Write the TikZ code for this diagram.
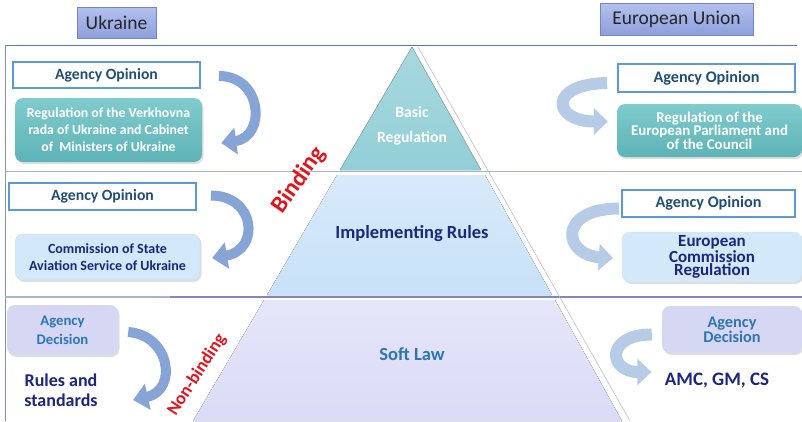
\documentclass[tikz,border=0pt]{standalone}
\usepackage{fontspec}
\setmainfont{Carlito}
\usetikzlibrary{arrows.meta,shadows,calc}
\definecolor{hdrtop}{HTML}{B3C1EE}
\definecolor{hdrbot}{HTML}{8E9FDC}
\definecolor{hdrline}{HTML}{7086C8}
\definecolor{opline}{HTML}{5B9BD5}
\definecolor{optext}{HTML}{1F4E79}
\definecolor{tealtop}{HTML}{80CBCD}
\definecolor{tealbot}{HTML}{5DB3B6}
\definecolor{lbluefill}{HTML}{D3E8F9}
\definecolor{navy}{HTML}{1C2580}
\definecolor{lavfill}{HTML}{D6D7F3}
\definecolor{midblue}{HTML}{2E75B6}
\definecolor{larrowc}{HTML}{86A5D6}
\definecolor{rarrowc}{HTML}{B6CBE6}
\definecolor{pyrtop}{HTML}{92CFD6}
\definecolor{pyrmid}{HTML}{C7E1F8}
\definecolor{pyrbot}{HTML}{DADBF7}
\definecolor{bindred}{HTML}{E3141B}
\definecolor{frameblue}{HTML}{5878A8}
\definecolor{sepgrey}{HTML}{A9B4C8}
\definecolor{seppurple}{HTML}{8484BE}
\tikzset{
  hdrbox/.style={draw=hdrline, line width=0.8pt, top color=hdrtop, bottom color=hdrbot,
    text=black!85, font=\fontsize{19.5}{20}\selectfont, inner sep=0pt},
  opbox/.style={draw=opline, line width=1.8pt, fill=white, text=optext,
    font=\fontsize{15.7}{16}\bfseries\selectfont, inner sep=0pt},
  tealbox/.style={rounded corners=8pt, top color=tealtop, bottom color=tealbot, text=white,
    align=center, inner sep=0pt, drop shadow={opacity=0.25, shadow xshift=1.5pt, shadow yshift=-2pt}},
  bluebox/.style={rounded corners=8pt, fill=lbluefill, draw=lbluefill!85!black!60, line width=0.3pt,
    text=navy, align=center, inner sep=0pt,
    drop shadow={opacity=0.25, shadow xshift=1.5pt, shadow yshift=-2pt}},
  lavbox/.style={rounded corners=8pt, fill=lavfill, text=midblue, align=center, inner sep=0pt,
    drop shadow={opacity=0.25, shadow xshift=1.5pt, shadow yshift=-2pt}},
  larrow/.style={draw=larrowc, line width=10pt, -{Triangle[width=26pt,length=15pt]}},
  rarrow/.style={draw=rarrowc, line width=12pt, -{Triangle[width=26pt,length=14pt]}},
  redtext/.style={text=bindred, font=\bfseries, rotate=55, inner sep=0pt},
}
\begin{document}
\begin{tikzpicture}[x=1pt,y=-1pt]
\useasboundingbox (0,0) rectangle (802,421);
\fill[white] (0,0) rectangle (802,421);
% frame and separators
\draw[frameblue, line width=1pt] (5,45) -- (797,45);
\draw[sepgrey!80!black, line width=0.8pt] (5,45) -- (5,421);
\draw[sepgrey, line width=1pt] (5,171) -- (802,171);
\draw[sepgrey, line width=1.2pt] (5,297) -- (170,297);
\draw[seppurple, line width=1.5pt] (170,297) -- (802,297);
% pyramid
\fill[top color=pyrtop!80!white, bottom color=pyrtop] (412,47) -- (481,170) -- (340,170) -- cycle;
\draw[pyrtop!70!black!80, line width=0.5pt] (412,47) -- (481,170);
\draw[pyrtop!70!black!80, line width=0.5pt] (412,47) -- (340,170);
\fill[top color=pyrmid!70!white, bottom color=pyrmid] (337,175) -- (485,175) -- (552,295) -- (267,295) -- cycle;
\fill[top color=pyrbot!70!white, bottom color=pyrbot] (264,300) -- (555,300) -- (622,421) -- (193,421) -- cycle;
\draw[black!25, line width=0.6pt] (418,47) -- (630,421);
% pyramid labels
\node[text=white, align=center, font=\fontsize{15.7}{25}\bfseries\selectfont] (pbasic) at (412,126) {Basic\\Regulation};
\node[text=navy, font=\fontsize{18.5}{20}\bfseries\selectfont] (pimpl) at (412,234) {Implementing Rules};
\node[text=midblue, font=\fontsize{18.5}{20}\bfseries\selectfont] (psoft) at (412,354) {Soft Law};
\node[redtext, font=\fontsize{24}{24}\bfseries\selectfont] (binding) at (299,180) {Binding};
\node[redtext, rotate=2, font=\fontsize{18}{18}\bfseries\selectfont] (nonbinding) at (197,375) {Non-binding};
% headers
\node[hdrbox, minimum width=79pt, minimum height=31pt] (ukr) at (116.5,22.5) {Ukraine};
\node[hdrbox, minimum width=153pt, minimum height=32pt] (eu) at (676.5,19) {European Union};
% left column
\node[opbox, minimum width=187pt, minimum height=26pt] (lo1) at (106.5,75) {Agency Opinion};
\node[tealbox, minimum width=187pt, minimum height=64pt, font=\fontsize{13.8}{17}\bfseries\selectfont] (lreg1) at (108.5,130)
  {Regulation of the Verkhovna\\rada of Ukraine and Cabinet\\of~ Ministers of Ukraine};
\node[opbox, minimum width=187pt, minimum height=27pt] (lo2) at (102.5,196.5) {Agency Opinion};
\node[bluebox, minimum width=185pt, minimum height=46pt, font=\fontsize{14}{17}\bfseries\selectfont] (lreg2) at (107.5,257)
  {Commission of State\\Aviation Service of Ukraine};
\node[lavbox, minimum width=111pt, minimum height=50pt, font=\fontsize{14.7}{19}\bfseries\selectfont] (ldec) at (62.5,330)
  {Agency\\Decision};
\node[text=navy, align=center, font=\fontsize{18}{20}\bfseries\selectfont] (lrules) at (61,390) {Rules and\\standards};
% right column
\node[opbox, minimum width=177pt, minimum height=28pt, font=\fontsize{16.2}{16}\bfseries\selectfont] (ro1) at (706.5,78) {Agency Opinion};
\node[tealbox, minimum width=185pt, minimum height=53pt, font=\fontsize{14.9}{13.5}\bfseries\selectfont] (rreg1) at (709.5,130.5)
  {Regulation of the\\European Parliament and\\of the Council};
\node[opbox, minimum width=173pt, minimum height=27pt, font=\fontsize{16.2}{16}\bfseries\selectfont] (ro2) at (708.5,203.5) {Agency Opinion};
\node[bluebox, minimum width=180pt, minimum height=50pt, font=\fontsize{17}{13.5}\bfseries\selectfont] (rreg2) at (712,257)
  {European\\Commission\\Regulation};
\node[lavbox, minimum width=140pt, minimum height=47pt, font=\fontsize{16.3}{12.5}\bfseries\selectfont] (rdec) at (732,329.5)
  {Agency\\Decision};
\node[text=navy, font=\fontsize{19}{20}\bfseries\selectfont] (ramc) at (717,381) {AMC, GM, CS};
% left arrows
\draw[larrow] ($(lo1.east)+(18,1)$) .. controls +(44,0) and +(45,-6) .. ($(lreg1.east)+(19,13)$);
\draw[larrow] ($(lo2.east)+(14,-1)$) .. controls +(45,0) and +(48,-8) .. ($(lreg2.east)+(12,1)$);
\draw[larrow] ($(ldec.east)+(10,2)$) .. controls +(42,3) and +(45,-10) .. ($(lrules.east)+(32,10)$);
% right arrows
\draw[rarrow] ($(ro1.west)+(-10,5)$) .. controls +(-60,1) and +(-55,0) .. ($(rreg1.west)+(-9,-9)$);
\draw[rarrow] ($(ro2.west)+(-2,5)$) .. controls +(-62,0) and +(-50,-3) .. ($(rreg2.west)+(-9,1)$);
\draw[rarrow] ($(rdec.west)+(-10,5)$) .. controls +(-47,0) and +(-43,0) .. ($(ramc.west)+(-10,-9)$);
\end{tikzpicture}
\end{document}
